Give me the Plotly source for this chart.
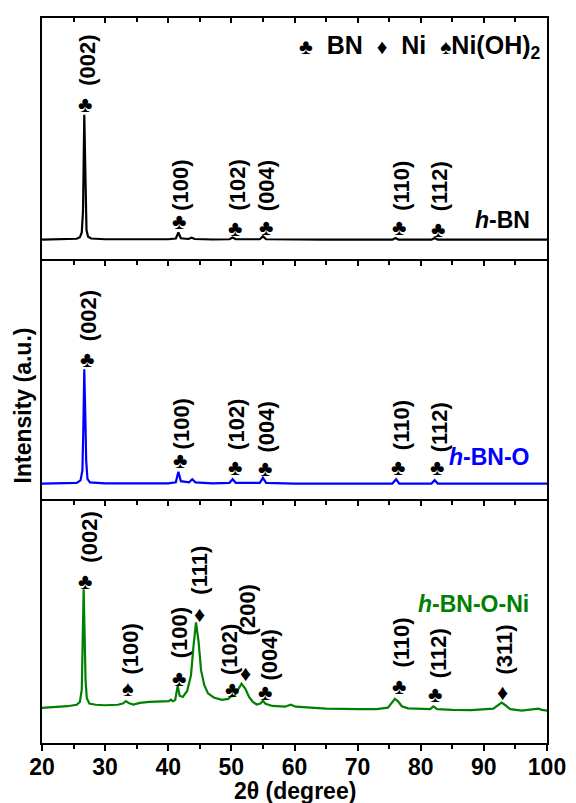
import plotly.graph_objects as go

# ---------------- data ----------------
bn_x = [20.0, 22.0, 24.0, 25.5, 26.0, 26.3, 26.5, 26.6, 26.7, 26.8, 26.9, 27.05, 27.3, 27.8,
        30.0, 35.0, 40.0, 41.2, 41.6, 42.0, 43.2, 43.7, 44.2, 47.0, 49.7, 50.2, 50.7,
        54.5, 55.0, 55.5, 60.0, 65.0, 70.0, 75.5, 76.0, 76.5, 81.7, 82.2, 82.7, 90.0, 100.0]
bn_y = [8.0, 8.1, 8.2, 8.4, 9.0, 11.0, 20.0, 40.0, 59.8, 45.0, 24.0, 12.0, 9.2, 8.5,
        8.2, 8.1, 8.2, 8.5, 11.0, 8.6, 8.3, 8.8, 8.3, 8.1, 8.2, 8.9, 8.2,
        8.2, 9.4, 8.2, 8.0, 8.0, 8.0, 8.0, 8.7, 8.0, 8.0, 8.7, 8.0, 8.0, 8.0]

bno_x = [20.0, 25.5, 26.1, 26.4, 26.55, 26.7, 26.85, 27.0, 27.2, 27.6, 30.0, 40.0, 41.2, 41.6,
         42.0, 43.3, 43.8, 44.3, 47.0, 49.7, 50.2, 50.7, 54.5, 55.0, 55.5, 60.0, 75.5, 76.1,
         76.6, 81.7, 82.2, 82.7, 100.0]
bno_y = [6.5, 6.8, 7.8, 12.0, 30.0, 54.5, 36.0, 16.0, 8.5, 7.0, 6.6, 6.6, 7.0, 11.4,
         7.5, 7.0, 8.3, 7.0, 6.6, 6.8, 8.3, 6.8, 6.8, 8.9, 6.8, 6.5, 6.5, 8.3,
         6.5, 6.5, 7.9, 6.5, 6.5]

bnoni_x = [20.0, 22.0, 24.0, 25.5, 26.0, 26.3, 26.45, 26.6, 26.75, 26.9, 27.1, 27.5, 28.5, 30.0,
           32.0, 32.8, 33.3, 33.8, 34.5, 35.5, 37.0, 39.0, 40.1, 40.4, 40.7, 41.1, 41.5, 41.8,
           42.3, 43.0, 43.6, 44.0, 44.4, 44.8, 45.2, 45.7, 46.3, 47.2, 48.5, 49.5, 49.9, 50.5,
           51.0, 51.6, 52.2, 52.8, 53.4, 54.0, 54.6, 55.0, 55.4, 56.5, 58.5, 59.4, 60.2, 62.0,
           65.0, 70.0, 73.0, 74.8, 75.5, 75.9, 76.4, 77.0, 78.0, 80.0, 81.5, 82.0, 82.6, 85.0,
           88.0, 91.5, 92.3, 92.8, 93.3, 94.2, 96.0, 98.2, 98.6, 99.2, 100.0]
bnoni_y = [14.5, 14.8, 15.2, 15.8, 17.0, 22.0, 38.0, 63.5, 45.0, 26.0, 18.5, 16.3, 15.8, 15.6,
           15.8, 16.3, 17.3, 16.4, 15.9, 16.6, 17.0, 17.1, 17.3, 17.9, 17.3, 17.8, 23.7, 19.5,
           19.0, 21.5, 28.0, 40.0, 49.8, 42.0, 30.0, 24.0, 20.5, 18.8, 17.8, 18.2, 19.2, 19.5,
           22.0, 24.5, 22.5, 19.0, 17.0, 15.9, 16.3, 17.4, 16.2, 15.3, 15.0, 15.8, 15.0, 14.6,
           14.2, 14.0, 14.0, 14.6, 16.8, 18.3, 17.2, 15.2, 14.3, 14.0, 14.0, 15.1, 14.0, 13.7,
           13.6, 14.2, 15.8, 16.7, 15.8, 14.0, 13.4, 13.9, 14.2, 13.7, 13.4]

# peak markers: symbol, hkl label, symbol position, label (bottom) position
top_sym = ["♣", "♣", "♣", "♣", "♣", "♣"]
top_hkl = ["(002)", "(100)", "(102)", "(004)", "(110)", "(112)"]
top_sym_x = [26.8, 41.7, 50.6, 55.5, 76.6, 82.7]
top_sym_y = [64.2, 15.5, 12.7, 13.0, 13.0, 12.3]
top_lab_x = [27.2, 41.9, 50.9, 55.6, 77.0, 83.1]
top_lab_y = [71.0, 19.1, 19.1, 19.1, 19.1, 19.1]

mid_sym = ["♣", "♣", "♣", "♣", "♣", "♣"]
mid_hkl = ["(002)", "(100)", "(102)", "(004)", "(110)", "(112)"]
mid_sym_x = [27.1, 41.9, 50.5, 55.3, 76.4, 82.5]
mid_sym_y = [58.6, 16.0, 13.2, 12.8, 13.2, 13.2]
mid_lab_x = [27.5, 42.1, 50.9, 55.6, 77.0, 82.9]
mid_lab_y = [65.4, 20.0, 19.6, 18.8, 19.6, 18.8]

bot_sym = ["♣", "♠", "♣", "♦", "♣", "♦", "♣", "♣", "♣", "♦"]
bot_hkl = ["(002)", "(100)", "(100)", "(111)", "(102)", "(200)", "(004)", "(110)", "(112)", "(311)"]
bot_sym_x = [26.8, 33.6, 41.7, 44.9, 50.1, 52.3, 55.4, 76.6, 82.3, 92.9]
bot_sym_y = [66.9, 22.7, 26.8, 53.1, 22.3, 28.9, 20.9, 23.4, 19.9, 20.9]
bot_lab_x = [27.6, 34.0, 41.7, 45.0, 49.6, 52.7, 56.0, 77.0, 82.8, 93.2]
bot_lab_y = [73.9, 27.4, 34.4, 60.6, 27.4, 43.6, 24.9, 30.3, 26.1, 27.5]

sample_names = ["<i>h</i>-BN", "<i>h</i>-BN-O", "<i>h</i>-BN-O-Ni"]
sample_colors = ["#000000", "#0000FF", "#008000"]
sample_label_x = [97.6, 97.6, 97.4]
sample_label_y = [16.2, 17.5, 57.3]

x_range = [20, 100]
x_ticks = [20, 30, 40, 50, 60, 70, 80, 90, 100]

# ---------------- figure ----------------
FONT = "Liberation Sans, Arial, sans-serif"
fig = go.Figure()

series = [(bn_x, bn_y, "x", "y"), (bno_x, bno_y, "x2", "y2"), (bnoni_x, bnoni_y, "x3", "y3")]
for (xs, ys, xa, ya), col in zip(series, sample_colors):
    fig.add_trace(go.Scatter(x=xs, y=ys, mode="lines", xaxis=xa, yaxis=ya,
                             line=dict(color=col, width=2.2), showlegend=False,
                             hoverinfo="skip"))
fig.add_trace(go.Scatter(x=[], y=[], xaxis="x4", yaxis="y3", showlegend=False, hoverinfo="skip"))

PLOT_H = 725.0
domains = [[484 / PLOT_H, 1.0], [244 / PLOT_H, 482 / PLOT_H], [0.0, 242 / PLOT_H]]

def xax(anchor, **kw):
    d = dict(range=x_range, anchor=anchor, domain=[0, 1], showgrid=False, zeroline=False,
             showline=True, linecolor="black", linewidth=2, mirror=True,
             side="top", ticks="inside", ticklen=5, tickwidth=1.5, tickcolor="black",
             tickvals=x_ticks, showticklabels=False,
             minor=dict(ticks="inside", dtick=5, ticklen=4, tickwidth=1.5, tickcolor="black"))
    d.update(kw)
    return d

def yax(dom):
    return dict(range=[0, 100], domain=dom, showgrid=False, zeroline=False, showline=True,
                linecolor="black", linewidth=2, mirror=True, ticks="", showticklabels=False,
                fixedrange=True)

fig.update_layout(
    width=568, height=795,
    margin=dict(l=34, r=21, t=10, b=60),
    paper_bgcolor="white", plot_bgcolor="white",
    font=dict(family=FONT, color="black"),
    xaxis=xax("y"), xaxis2=xax("y2"), xaxis3=xax("y3"),
    xaxis4=dict(range=x_range, anchor="y3", overlaying="x3", side="bottom",
                showgrid=False, zeroline=False, showline=True, linecolor="black", linewidth=2,
                ticks="outside", ticklen=6, tickwidth=1.5, tickcolor="black",
                tickvals=x_ticks, ticktext=[str(t) for t in x_ticks], ticklabelstandoff=-4,
                tickfont=dict(family=FONT, size=23, color="black", weight="bold"),
                minor=dict(ticks="outside", dtick=5, ticklen=4, tickwidth=1.5, tickcolor="black")),
    yaxis=yax(domains[0]), yaxis2=yax(domains[1]), yaxis3=yax(domains[2]),
)

ann = []
panels = [
    ("x", "y", top_sym, top_hkl, top_sym_x, top_sym_y, top_lab_x, top_lab_y),
    ("x2", "y2", mid_sym, mid_hkl, mid_sym_x, mid_sym_y, mid_lab_x, mid_lab_y),
    ("x3", "y3", bot_sym, bot_hkl, bot_sym_x, bot_sym_y, bot_lab_x, bot_lab_y),
]
for xr, yr, syms, hkls, sx, sy, lx, ly in panels:
    for s, h, a, b, c, d in zip(syms, hkls, sx, sy, lx, ly):
        ann.append(dict(xref=xr, yref=yr, x=a, y=b, text=s, showarrow=False,
                        xanchor="center", yanchor="middle",
                        font=dict(family=FONT, size=22, color="black")))
        ann.append(dict(xref=xr, yref=yr, x=c, y=d, text=h, showarrow=False,
                        textangle=-90, xanchor="center", yanchor="bottom",
                        font=dict(family=FONT, size=22, color="black", weight="bold")))

for (xr, yr), name, col, nx, ny in zip([("x", "y"), ("x2", "y2"), ("x3", "y3")],
                                         sample_names, sample_colors, sample_label_x, sample_label_y):
    ann.append(dict(xref=xr, yref=yr, x=nx, y=ny, text="<b>" + name + "</b>", showarrow=False,
                    xanchor="right", yanchor="middle",
                    font=dict(family=FONT, size=23, color=col)))

legend_text = ("<b><span style='font-size:21px'>♣</span>&nbsp; BN&nbsp; "
               "<span style='font-size:21px'>♦</span>&nbsp; Ni&nbsp; "
               "<span style='font-size:21px'>♠</span>Ni(OH)<sub>2</sub></b>")
ann.append(dict(xref="x", yref="y", x=99.3, y=88.0, text=legend_text, showarrow=False,
                xanchor="right", yanchor="middle", font=dict(family=FONT, size=25, color="black")))

ann.append(dict(xref="paper", yref="paper", x=-0.037, y=0.466, text="<b>Intensity (a.u.)</b>",
                showarrow=False, textangle=-90, xanchor="center", yanchor="middle",
                font=dict(family=FONT, size=23, color="black")))
ann.append(dict(xref="paper", yref="paper", x=0.5, y=-0.066, text="<b>2θ (degree)</b>",
                showarrow=False, xanchor="center", yanchor="middle",
                font=dict(family=FONT, size=23, color="black")))

fig.update_layout(annotations=ann)
fig.write_html("out.html")
